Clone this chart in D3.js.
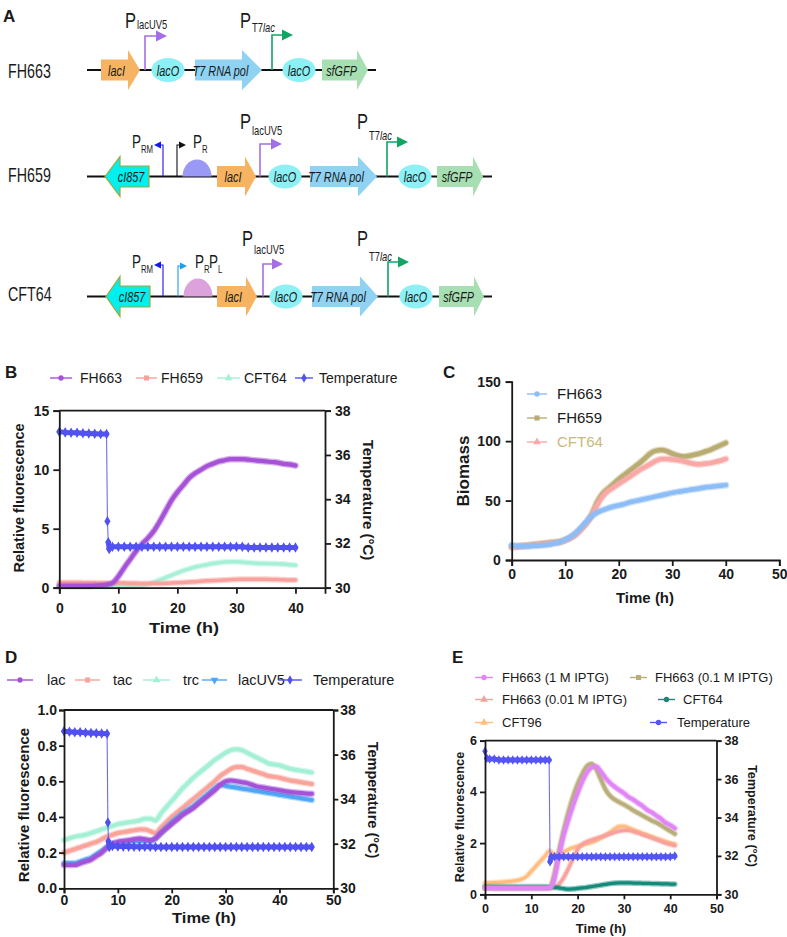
<!DOCTYPE html>
<html><head><meta charset="utf-8">
<script src="https://cdn.jsdelivr.net/npm/d3@7"></script>
<style>body{margin:0;background:#fff;} text{font-family:Arial,"Liberation Sans",Helvetica,sans-serif;}</style>
</head><body><script>
// ---------------- DATA ----------------
const constructs = ["FH663", "FH659", "CFT64"];

// Panel B
const bTime = d3.range(0, 41);
const bFH663 = [0.15,0.15,0.15,0.15,0.15,0.15,0.18,0.2,0.25,0.4,0.95,1.7,2.4,3.1,3.7,4.2,4.8,5.6,6.5,7.4,8.1,8.7,9.3,9.7,10.0,10.3,10.5,10.7,10.8,10.9,10.9,10.9,10.85,10.8,10.75,10.7,10.65,10.6,10.5,10.45,10.35];
const bFH659 = [0.45,0.45,0.45,0.44,0.43,0.42,0.41,0.4,0.4,0.4,0.4,0.39,0.38,0.37,0.36,0.35,0.35,0.35,0.37,0.39,0.42,0.45,0.48,0.51,0.55,0.58,0.6,0.63,0.66,0.68,0.7,0.71,0.72,0.72,0.72,0.71,0.7,0.69,0.67,0.66,0.65];
const bCFT64 = [0.1,0.1,0.1,0.1,0.1,0.1,0.1,0.1,0.1,0.1,0.1,0.1,0.12,0.15,0.2,0.3,0.45,0.65,0.85,1.05,1.25,1.45,1.6,1.75,1.85,1.95,2.05,2.12,2.18,2.2,2.2,2.16,2.12,2.08,2.05,2.05,2.04,2.02,2.0,1.95,1.9];
const bTempTime = [0,1,2,3,4,5,6,7,8,8.15,8.3,8.45,9,10,11,12,13,14,15,16,17,18,19,20,21,22,23,24,25,26,27,28,29,30,31,32,33,34,35,36,37,38,39,40];
const bTemp = [37.05,37.02,37.0,37.0,36.98,36.97,36.96,36.95,36.95,33.0,32.05,31.75,31.85,31.85,31.85,31.85,31.85,31.85,31.85,31.85,31.85,31.85,31.85,31.85,31.85,31.85,31.85,31.85,31.85,31.85,31.85,31.85,31.85,31.85,31.85,31.82,31.82,31.82,31.82,31.82,31.82,31.82,31.82,31.82];

// Panel C
const cTime = d3.range(0, 41);
const cFH663 = [12.5,11.5,11.5,11.5,12,12,12.5,13,14,15,17,19.5,23,27.5,32.5,37,40,42,43.5,45,46,47,48.5,49.5,50.5,51.5,52.5,53.5,54.5,55.5,56.5,57.3,58,58.8,59.5,60.2,61,61.5,62,62.5,63];
const cFH659 = [11,11.5,12,12.5,13,13.5,14,14.5,15,15.5,17,19,22,26.5,31.5,39,49,56,60,64,68,71.5,75,78.5,82,86,90,92,92.5,91.5,89.5,88,87,87.5,88.5,89.5,91,92.5,94.5,96.5,98.5];
const cCFT64 = [11,11,11.5,12,12.5,13,13.5,14,14.5,15,16.5,18.5,21.5,26,31,37.5,46.5,53.5,58,61,64,67,70,73,76,78.5,81,83.5,85,85,84.5,84,83,82,81,80.5,81,81.5,82.5,83.5,85];

// Panel D
const dTime = d3.range(0, 47);
const dLac = [0.13,0.13,0.13,0.14,0.15,0.16,0.18,0.2,0.23,0.25,0.26,0.265,0.27,0.275,0.28,0.275,0.27,0.28,0.31,0.335,0.36,0.385,0.41,0.43,0.45,0.475,0.5,0.525,0.55,0.58,0.6,0.605,0.6,0.595,0.59,0.58,0.57,0.565,0.56,0.555,0.55,0.545,0.54,0.537,0.535,0.532,0.53];
const dTac = [0.2,0.21,0.22,0.23,0.24,0.25,0.26,0.275,0.29,0.3,0.31,0.315,0.32,0.325,0.33,0.33,0.32,0.31,0.34,0.37,0.4,0.425,0.45,0.475,0.5,0.525,0.55,0.575,0.6,0.63,0.65,0.67,0.68,0.68,0.67,0.66,0.65,0.64,0.63,0.625,0.62,0.612,0.605,0.6,0.595,0.59,0.585];
const dTrc = [0.27,0.28,0.29,0.295,0.3,0.31,0.32,0.33,0.34,0.35,0.36,0.365,0.37,0.375,0.38,0.39,0.39,0.38,0.42,0.455,0.49,0.525,0.56,0.59,0.62,0.645,0.67,0.695,0.72,0.74,0.76,0.775,0.78,0.775,0.76,0.745,0.73,0.715,0.7,0.695,0.69,0.68,0.67,0.665,0.66,0.655,0.65];
const dLacUV5 = [0.14,0.14,0.14,0.15,0.16,0.17,0.19,0.21,0.23,0.25,0.255,0.26,0.26,0.265,0.265,0.265,0.265,0.28,0.31,0.34,0.37,0.395,0.42,0.44,0.46,0.485,0.51,0.535,0.56,0.58,0.575,0.57,0.565,0.56,0.555,0.55,0.545,0.54,0.535,0.53,0.525,0.52,0.515,0.51,0.505,0.5,0.495];
const dTempTime = [0,1,2,3,4,5,6,7,8,8.15,8.25,8.4,9,10,11,12,13,14,15,16,17,18,19,20,21,22,23,24,25,26,27,28,29,30,31,32,33,34,35,36,37,38,39,40,41,42,43,44,45,46];
const dTemp = [37.05,37.02,37.0,37.0,36.98,36.97,36.96,36.95,36.93,32.95,32.1,31.85,31.9,31.88,31.87,31.87,31.86,31.86,31.86,31.86,31.85,31.85,31.85,31.85,31.85,31.85,31.85,31.85,31.85,31.85,31.85,31.85,31.85,31.85,31.85,31.85,31.85,31.85,31.85,31.85,31.85,31.85,31.85,31.85,31.85,31.85,31.85,31.85,31.85,31.85];

// Panel E
const eTime = d3.range(0, 42);
const e1M = [0.25,0.25,0.24,0.24,0.24,0.24,0.24,0.24,0.24,0.24,0.24,0.24,0.24,0.24,0.25,0.6,1.5,2.3,2.9,3.45,3.95,4.4,4.75,4.95,5.0,4.8,4.55,4.35,4.2,4.07,3.95,3.8,3.7,3.57,3.45,3.3,3.2,3.07,2.95,2.8,2.7,2.58];
const e01M = [0.25,0.25,0.24,0.24,0.24,0.24,0.24,0.24,0.24,0.24,0.24,0.24,0.24,0.24,0.26,0.8,1.7,2.5,3.2,3.8,4.3,4.7,5.0,5.1,4.9,4.5,4.1,3.85,3.7,3.6,3.5,3.4,3.28,3.18,3.08,2.98,2.88,2.8,2.7,2.58,2.47,2.36];
const e001M = [0.25,0.25,0.24,0.24,0.24,0.24,0.24,0.24,0.24,0.24,0.24,0.24,0.24,0.24,0.25,0.28,0.4,0.65,1.0,1.4,1.75,1.95,2.05,2.12,2.18,2.24,2.3,2.36,2.42,2.47,2.5,2.5,2.45,2.4,2.33,2.27,2.2,2.14,2.07,2.0,1.95,1.9];
const eCFT64 = [0.3,0.3,0.3,0.3,0.3,0.3,0.3,0.3,0.3,0.3,0.3,0.3,0.3,0.3,0.28,0.27,0.25,0.22,0.2,0.21,0.23,0.25,0.27,0.3,0.33,0.36,0.39,0.42,0.44,0.45,0.45,0.45,0.44,0.44,0.43,0.43,0.42,0.42,0.41,0.41,0.4,0.4];
const eCFT96 = [0.45,0.45,0.46,0.47,0.48,0.5,0.52,0.55,0.6,0.7,0.9,1.1,1.3,1.5,1.7,1.55,1.55,1.65,1.75,1.82,1.88,1.93,1.98,2.03,2.1,2.2,2.3,2.42,2.55,2.65,2.65,2.6,2.52,2.45,2.38,2.32,2.25,2.18,2.12,2.06,2.0,1.96];
const eTempTime = [0,0.4,1,2,3,4,5,6,7,8,9,10,11,12,13,13.85,14.05,14.3,15,16,17,18,19,20,21,22,23,24,25,26,27,28,29,30,31,32,33,34,35,36,37,38,39,40,41];
const eTemp = [37.45,37.08,37.05,37.05,37.0,37.0,37.0,37.0,37.0,37.0,37.0,37.0,37.0,37.0,37.0,37.0,31.7,31.95,31.95,31.95,31.95,31.95,31.95,31.95,31.95,31.95,31.95,31.95,31.95,31.95,31.95,31.95,31.95,31.95,31.95,31.95,31.95,31.95,31.95,31.95,31.95,31.95,31.95,31.95,32.0];

// ---------------- DRAW ----------------
const svg = d3.select("body").append("svg").attr("width", 787).attr("height", 937).style("display", "block");
const INK = "#1a1a1a";

function T(g, x, y, s, o = {}) {
  let tr = `translate(${x},${y})`;
  if (o.rot) tr += ` rotate(${o.rot})`;
  if (o.sx) tr += ` scale(${o.sx},1)`;
  return g.append("text").attr("transform", tr)
    .attr("font-size", o.size || 14)
    .attr("font-weight", o.bold ? "bold" : "normal")
    .attr("font-style", o.italic ? "italic" : "normal")
    .attr("fill", o.fill || INK)
    .attr("text-anchor", o.anchor || "start")
    .text(s);
}

// ---------- Panel A ----------
const gA = svg.append("g");
T(gA, 3, 22, "A", {size: 17, bold: true});
const SX = 0.7;
const COL = {lacI: "#f6b462", lacO: "#8cf0f4", t7: "#8fd2f2", gfp: "#a7dfb3", ci: "#00efef",
             purple: "#a36fe6", green: "#13a463", blue: "#1818e6", black: "#111", lblue: "#1f9bef"};

function backbone(cy, x0, x1) {
  gA.append("line").attr("x1", x0).attr("x2", x1).attr("y1", cy).attr("y2", cy).attr("stroke", "#111").attr("stroke-width", 2.2);
}
function gene(cy, x0, x1, hb, fill, label, opts = {}) {
  const bh = 10.5, hh = 20;
  let pts;
  if (!opts.left) {
    pts = [[x0, cy - bh], [hb, cy - bh], [hb, cy - hh], [x1, cy], [hb, cy + hh], [hb, cy + bh], [x0, cy + bh]];
  } else {
    pts = [[x0, cy], [hb, cy - hh], [hb, cy - bh], [x1, cy - bh], [x1, cy + bh], [hb, cy + bh], [hb, cy + hh]];
  }
  gA.append("polygon").attr("points", pts.map(p => p.join(",")).join(" "))
    .attr("fill", fill).attr("stroke", opts.stroke || "none").attr("stroke-width", 1.2);
  const cx = opts.left ? (x0 + x1) / 2 + 4 : (x0 + hb) / 2 + 2;
  T(gA, cx, cy + 5.5, label, {size: 15.5, italic: true, anchor: "middle", sx: SX});
}
function operator(cy, cx) {
  gA.append("ellipse").attr("cx", cx).attr("cy", cy).attr("rx", 16.5).attr("ry", 12).attr("fill", COL.lacO);
  T(gA, cx, cy + 5.5, "lacO", {size: 15.5, italic: true, anchor: "middle", sx: SX});
}
function dome(cy, cx, rx, ry, fill) {
  gA.append("path").attr("d", `M${cx - rx},${cy} A${rx},${ry} 0 0 1 ${cx + rx},${cy} Z`).attr("fill", fill);
}
function promoter(cy, x, top, tip, color, w, head) {
  const dir = tip > x ? 1 : -1;
  const hb = tip - dir * head[0];
  gA.append("path").attr("d", `M${x},${cy} V${top} H${hb}`).attr("fill", "none").attr("stroke", color).attr("stroke-width", w);
  gA.append("polygon").attr("points", `${hb},${top - head[1] / 2} ${tip},${top} ${hb},${top + head[1] / 2}`).attr("fill", color);
}
function plabel(x, y, sub, subY, o = {}) {
  T(gA, x, y, "P", {size: o.size || 22, sx: 0.75});
  const t = gA.append("text").attr("transform", `translate(${x + (o.dx || 12)},${subY}) scale(0.78,1)`)
    .attr("font-size", o.subSize || 12).attr("fill", INK);
  sub.forEach(s => t.append("tspan").attr("font-style", s[1] ? "italic" : "normal").text(s[0]));
}

// Row FH663
{
  const cy = 70;
  T(gA, 8, 78, constructs[0], {size: 21, sx: 0.68});
  backbone(cy, 87, 376);
  gene(cy, 101, 140, 128, COL.lacI, "lacI");
  promoter(cy, 145, 36, 167, COL.purple, 1.6, [11, 11]);
  operator(cy, 168);
  gene(cy, 195, 262, 242, COL.t7, "T7 RNA pol");
  promoter(cy, 272, 35, 293, COL.green, 1.6, [11, 11]);
  operator(cy, 299);
  gene(cy, 322, 368, 357, COL.gfp, "sfGFP");
  plabel(125, 28, [["lacUV5", 0]], 29);
  plabel(240, 28, [["T7", 0], ["lac", 1]], 32);
}
// Row FH659
{
  const cy = 176.5;
  T(gA, 8, 182, constructs[1], {size: 21, sx: 0.68});
  backbone(cy, 87, 492);
  gene(cy, 105, 149, 120, COL.ci, "cI857", {left: true, stroke: "#a0a83a"});
  promoter(cy, 163, 145, 154, COL.blue, 1.1, [7, 7]);
  promoter(cy, 177, 145, 186, COL.black, 1.1, [7, 7]);
  dome(cy, 197, 14.5, 17, "#9a9af6");
  gene(cy, 217, 256, 245, COL.lacI, "lacI");
  promoter(cy, 260, 144, 282, COL.purple, 1.6, [11, 11]);
  operator(cy, 285);
  gene(cy, 310, 377, 358, COL.t7, "T7 RNA pol");
  promoter(cy, 387, 142, 408, COL.green, 1.6, [11, 11]);
  operator(cy, 415);
  gene(cy, 437, 483, 473, COL.gfp, "sfGFP");
  plabel(132, 148, [["RM", 0]], 153, {size: 18, subSize: 10, dx: 9});
  plabel(193, 148, [["R", 0]], 153, {size: 18, subSize: 10, dx: 9});
  plabel(240, 129, [["lacUV5", 0]], 135);
  plabel(357, 129, [["T7", 0], ["lac", 1]], 140);
}
// Row CFT64
{
  const cy = 296.5;
  T(gA, 8, 301, constructs[2], {size: 21, sx: 0.68});
  backbone(cy, 87, 492);
  gene(cy, 106, 150, 120, COL.ci, "cI857", {left: true, stroke: "#a0a83a"});
  promoter(cy, 163, 265, 154, COL.blue, 1.1, [7, 7]);
  promoter(cy, 178, 266, 187, COL.lblue, 1.1, [7, 7]);
  dome(cy, 198, 14.5, 18, "#dca2dc");
  gene(cy, 217, 257, 246, COL.lacI, "lacI");
  promoter(cy, 263, 264, 283, COL.purple, 1.6, [11, 11]);
  operator(cy, 286);
  gene(cy, 312, 378, 360, COL.t7, "T7 RNA pol");
  promoter(cy, 388, 262, 409, COL.green, 1.6, [11, 11]);
  operator(cy, 416);
  gene(cy, 439, 484, 474, COL.gfp, "sfGFP");
  plabel(132, 268, [["RM", 0]], 273, {size: 18, subSize: 10, dx: 9});
  plabel(195, 268, [["R", 0]], 273, {size: 18, subSize: 10, dx: 9});
  plabel(209, 268, [["L", 0]], 273, {size: 18, subSize: 10, dx: 9});
  plabel(242, 246, [["lacUV5", 0]], 254);
  plabel(357, 246, [["T7", 0], ["lac", 1]], 261);
}

// ---------- Chart helpers ----------
function makePanel(o) {
  const g = svg.append("g");
  const x = d3.scaleLinear().domain(o.xd).range([o.l, o.r]);
  const y = d3.scaleLinear().domain(o.yd).range([o.b, o.t]);
  const y2 = o.y2d ? d3.scaleLinear().domain(o.y2d).range([o.b, o.t]) : null;
  const ts = o.ts || 6;
  const sty = (sel) => {
    sel.selectAll("path.domain").attr("stroke", INK).attr("stroke-width", 1.8);
    sel.selectAll(".tick line").attr("stroke", INK).attr("stroke-width", 1.8);
    sel.selectAll(".tick text").attr("font-size", o.fs).attr("font-weight", "bold").attr("fill", INK)
      .attr("font-family", "Arial, 'Liberation Sans', sans-serif");
  };
  const plot = g.append("g");
  g.append("g").attr("transform", `translate(0,${o.b})`)
    .call(d3.axisBottom(x).tickValues(o.xt).tickSizeOuter(0).tickSize(ts).tickPadding(o.xpad)).call(sty);
  g.append("g").attr("transform", `translate(${o.l},0)`)
    .call(d3.axisLeft(y).tickValues(o.yt).tickFormat(o.yf || d3.format("d")).tickSizeOuter(0).tickSize(ts).tickPadding(o.ypad)).call(sty);
  if (y2) {
    g.append("g").attr("transform", `translate(${o.r},0)`)
      .call(d3.axisRight(y2).tickValues(o.y2t).tickFormat(d3.format("d")).tickSizeOuter(0).tickSize(ts).tickPadding(o.ypad)).call(sty);
    g.append("line").attr("x1", o.l).attr("x2", o.r).attr("y1", o.t).attr("y2", o.t).attr("stroke", INK).attr("stroke-width", 1.8);
  }
  return {g, plot, x, y, y2};
}

function series(p, t, v, color, w, yScale) {
  const ys = yScale || p.y;
  const data = d3.zip(t, v);
  const line = d3.line().x(d => p.x(d[0])).y(d => ys(d[1])).curve(d3.curveMonotoneX);
  p.plot.append("path").datum(data).attr("d", line).attr("fill", "none").attr("stroke", color)
    .attr("stroke-opacity", 0.45).attr("stroke-width", w + 2.5).attr("stroke-linejoin", "round").attr("stroke-linecap", "round");
  p.plot.append("path").datum(data).attr("d", line).attr("fill", "none").attr("stroke", color)
    .attr("stroke-width", w).attr("stroke-linejoin", "round").attr("stroke-linecap", "round");
}

function tempSeries(p, t, v, color, size) {
  const data = d3.zip(t, v);
  d3.pairs(data).forEach(([a, b]) => {
    const steep = Math.abs(b[1] - a[1]) > 0.3;
    p.plot.append("line").attr("x1", p.x(a[0])).attr("y1", p.y2(a[1])).attr("x2", p.x(b[0])).attr("y2", p.y2(b[1]))
      .attr("stroke", color).attr("stroke-width", steep ? 1.1 : 5).attr("stroke-linecap", steep ? "butt" : "round")
      .attr("stroke-opacity", steep ? 0.85 : 1);
  });
  p.plot.selectAll(null).data(data).join("path")
    .attr("transform", d => `translate(${p.x(d[0])},${p.y2(d[1])})`)
    .attr("d", d3.symbol(d3.symbolDiamond, size || 32)).attr("fill", color);
}

const SYM = {circle: d3.symbolCircle, square: d3.symbolSquare, triangle: d3.symbolTriangle, diamond: d3.symbolDiamond,
             tdown: d3.symbolTriangle};
function legendItem(g, x0, x1, cy, color, sym, label, fs, textX, tcolor) {
  g.append("line").attr("x1", x0).attr("x2", x1).attr("y1", cy).attr("y2", cy).attr("stroke", color).attr("stroke-width", 1.4);
  g.append("path").attr("transform", `translate(${(x0 + x1) / 2},${cy})` + (sym === "tdown" ? " rotate(180)" : ""))
    .attr("d", d3.symbol(SYM[sym], sym === "circle" ? 22 : 26)).attr("fill", color);
  T(g, textX, cy + fs * 0.36, label, {size: fs, fill: tcolor || INK});
}

// ---------- Panel B ----------
{
  const C = {fh663: "#a652d6", fh659: "#f9a19c", cft64: "#a6f0d6", temp: "#5252f2"};
  T(svg, 5, 378, "B", {size: 17, bold: true});
  const p = makePanel({l: 59.3, r: 325, t: 410.7, b: 587.7, xd: [0, 45], yd: [0, 15], y2d: [30, 38],
    xt: [0, 10, 20, 30, 40], yt: [0, 5, 10, 15], y2t: [30, 32, 34, 36, 38], fs: 14, xpad: 9, ypad: 4});
  series(p, bTime, bCFT64, C.cft64, 3.5);
  series(p, bTime, bFH659, C.fh659, 3.5);
  series(p, bTime, bFH663, C.fh663, 4.2);
  tempSeries(p, bTempTime, bTemp, C.temp);
  T(svg, 24, 498, "Relative fluorescence", {size: 14.5, bold: true, rot: -90, anchor: "middle"});
  T(svg, 363, 500, "Temperature (°C)", {size: 15, bold: true, rot: 90, anchor: "middle"});
  T(svg, 184, 633, "Time (h)", {size: 15, bold: true, anchor: "middle"}).attr("textLength", 70).attr("lengthAdjust", "spacingAndGlyphs");
  const lg = svg.append("g");
  legendItem(lg, 50, 72, 378, C.fh663, "circle", "FH663", 14, 80);
  legendItem(lg, 136, 157, 378, C.fh659, "square", "FH659", 14, 161);
  legendItem(lg, 217, 240, 378, C.cft64, "triangle", "CFT64", 14, 244);
  legendItem(lg, 295, 313, 378, C.temp, "diamond", "Temperature", 14, 319);
}

// ---------- Panel C ----------
{
  const C = {fh663: "#8dbdf6", fh659: "#b9ac72", cft64: "#f8a8a6"};
  T(svg, 443, 378, "C", {size: 17, bold: true});
  const p = makePanel({l: 511.7, r: 779.3, t: 381.7, b: 560, xd: [0, 50], yd: [0, 150],
    xt: [0, 10, 20, 30, 40, 50], yt: [0, 50, 100, 150], fs: 14, xpad: 3, ypad: 5});
  series(p, cTime, cFH659, C.fh659, 4.5);
  series(p, cTime, cCFT64, C.cft64, 4.5);
  series(p, cTime, cFH663, C.fh663, 4.5);
  T(svg, 469, 471, "Biomass", {size: 17, bold: true, rot: -90, anchor: "middle"});
  T(svg, 645, 603, "Time (h)", {size: 15, bold: true, anchor: "middle"});
  const lg = svg.append("g");
  legendItem(lg, 527, 547, 394, C.fh663, "circle", "FH663", 15, 557);
  legendItem(lg, 527, 547, 418, C.fh659, "square", "FH659", 15, 557);
  legendItem(lg, 527, 547, 442, C.cft64, "triangle", "CFT64", 15, 557, "#c9b97e");
}

// ---------- Panel D ----------
{
  const C = {lac: "#a452d8", tac: "#f9a39b", trc: "#a4f0d4", uv5: "#4ea6f4", temp: "#5050f0"};
  T(svg, 5, 663, "D", {size: 17, bold: true});
  const p = makePanel({l: 64, r: 333.3, t: 710, b: 888.3, xd: [0, 50], yd: [0, 1], y2d: [30, 38],
    xt: [0, 10, 20, 30, 40, 50], yt: [0, 0.2, 0.4, 0.6, 0.8, 1.0], yf: d3.format(".1f"), y2t: [30, 32, 34, 36, 38],
    fs: 14, xpad: 2, ypad: 2, ts: 5});
  series(p, dTime, dTrc, C.trc, 4);
  series(p, dTime, dTac, C.tac, 4);
  series(p, dTime, dLacUV5, C.uv5, 4);
  series(p, dTime, dLac, C.lac, 4);
  tempSeries(p, dTempTime, dTemp, C.temp);
  T(svg, 29, 805, "Relative fluorescence", {size: 15, bold: true, rot: -90, anchor: "middle"});
  T(svg, 368, 800, "Temperature (°C)", {size: 14.5, bold: true, rot: 90, anchor: "middle"});
  T(svg, 204, 923, "Time (h)", {size: 14, bold: true, anchor: "middle"}).attr("textLength", 64).attr("lengthAdjust", "spacingAndGlyphs");
  const lg = svg.append("g");
  legendItem(lg, 7, 33, 680, C.lac, "circle", "lac", 14.5, 47);
  legendItem(lg, 75, 100, 680, C.tac, "square", "tac", 14.5, 113);
  legendItem(lg, 143, 170, 680, C.trc, "triangle", "trc", 14.5, 183);
  legendItem(lg, 202, 227, 680, C.uv5, "tdown", "lacUV5", 14.5, 238);
  legendItem(lg, 278, 302, 680, C.temp, "diamond", "Temperature", 14.5, 313);
}

// ---------- Panel E ----------
{
  const C = {m1: "#e184f6", m01: "#b9ae7a", m001: "#f8a19c", cft64: "#138a7a", cft96: "#ffbd7e", temp: "#5555f5"};
  T(svg, 452, 663, "E", {size: 17, bold: true});
  const p = makePanel({l: 485, r: 716.5, t: 740.7, b: 894.3, xd: [0, 50], yd: [0, 6], y2d: [30, 38],
    xt: [0, 10, 20, 30, 40, 50], yt: [0, 2, 4, 6], y2t: [30, 32, 34, 36, 38], fs: 12.5, xpad: 5, ypad: 3, ts: 5});
  series(p, eTime, eCFT96, C.cft96, 3.2);
  series(p, eTime, e001M, C.m001, 3.2);
  series(p, eTime, eCFT64, C.cft64, 3.2);
  series(p, eTime, e01M, C.m01, 3.6);
  series(p, eTime, e1M, C.m1, 3.8);
  tempSeries(p, eTempTime, eTemp, C.temp, 26);
  T(svg, 464, 817, "Relative fluorescence", {size: 12.7, bold: true, rot: -90, anchor: "middle"});
  T(svg, 748, 816, "Temperature (°C)", {size: 12.7, bold: true, rot: 90, anchor: "middle"});
  T(svg, 601, 933, "Time (h)", {size: 13, bold: true, anchor: "middle"});
  const lg = svg.append("g");
  legendItem(lg, 475, 493, 677.5, C.m1, "circle", "FH663 (1 M IPTG)", 13, 502);
  legendItem(lg, 630, 647, 677.5, C.m01, "square", "FH663 (0.1 M IPTG)", 13, 655);
  legendItem(lg, 475, 493, 699.5, C.m001, "triangle", "FH663 (0.01 M IPTG)", 13, 502);
  legendItem(lg, 658, 675, 699.5, C.cft64, "circle", "CFT64", 13, 683);
  legendItem(lg, 475, 493, 722.5, C.cft96, "triangle", "CFT96", 13, 502);
  legendItem(lg, 650, 667, 722.5, C.temp, "circle", "Temperature", 13, 677);
}
</script></body></html>
